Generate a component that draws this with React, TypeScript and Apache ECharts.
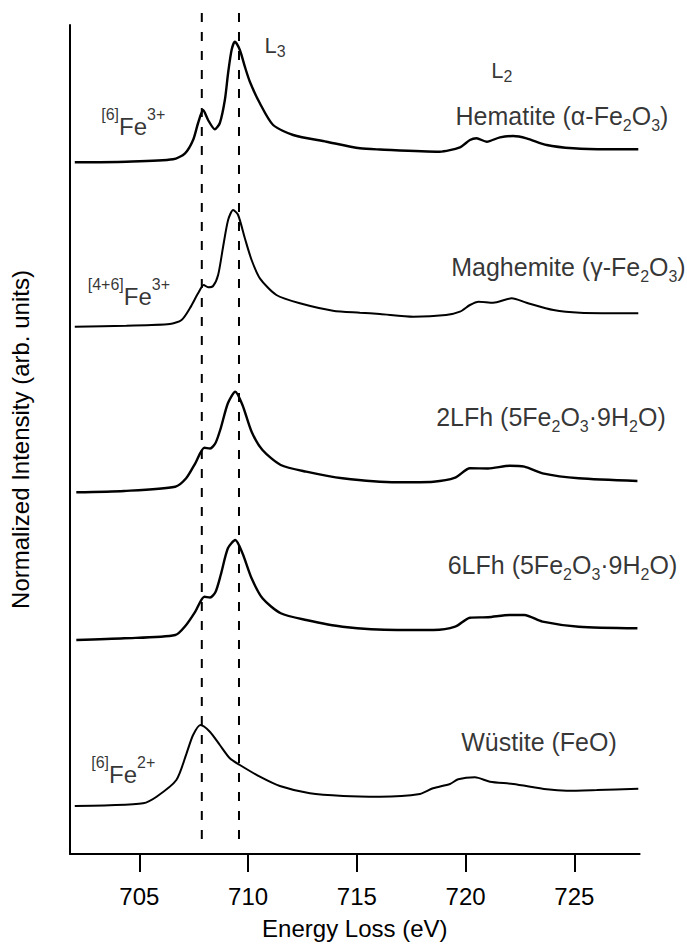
import React, { useEffect, useRef } from "react";
import * as echarts from "echarts";

// Energy loss (eV) and stacked, offset normalized intensity (arb. units)
const hematiteE = [702.03, 704.4, 706.55, 707.1, 707.47, 707.7, 707.93, 708.16, 708.47, 708.7, 708.93, 709.08, 709.24, 709.39, 709.62, 709.85, 710.08, 710.54, 711.15, 712.07, 713.6, 715.14, 716.06, 718.8, 719.74, 720.2, 720.5, 720.97, 721.58, 722.19, 722.8, 723.73, 724.95, 726.5, 727.94];
const hematiteI = [691.7, 692.3, 694.7, 700.7, 714, 731, 744, 734, 724.7, 731, 754, 781, 804, 812.3, 804, 787.3, 772.3, 750.7, 729, 719, 712.3, 705.7, 704.5, 702.3, 706.7, 714, 715.7, 712.3, 716.7, 718, 715.7, 709, 705.7, 704.7, 704.7];

const maghemiteE = [702.03, 704.4, 706.4, 706.94, 707.32, 707.7, 707.96, 708.16, 708.39, 708.62, 708.85, 709.08, 709.31, 709.54, 709.85, 710.16, 710.54, 711.3, 712.38, 713.9, 715.14, 716.06, 717.6, 719.1, 719.74, 720.2, 720.6, 721.27, 722.12, 722.8, 724.04, 725.26, 727.94];
const maghemiteI = [527.3, 528.3, 530, 534, 545.7, 560.7, 569, 566.7, 568, 579, 607.3, 634, 644, 639, 615.7, 594, 575.7, 559, 550.7, 543.3, 541.3, 540, 537.3, 539, 542.3, 549, 552.3, 551.3, 555.7, 551.3, 544, 541.3, 540.7];

const lfh2E = [702.1, 704.3, 706.65, 707.15, 707.57, 707.99, 708.25, 708.5, 708.74, 709.07, 709.41, 709.74, 710.16, 710.66, 711.5, 712.67, 714.34, 716.85, 718.52, 719.52, 720.2, 721.03, 722.03, 722.7, 723.54, 725.2, 727.9];
const lfh2I = [361.7, 363, 367.3, 375.7, 390.7, 406.3, 405.5, 411, 425.7, 450.7, 462.3, 449, 422.3, 404, 389, 382.3, 375.7, 371.7, 372.3, 376.3, 385.7, 385.5, 388.3, 387.3, 380.7, 375.7, 373];

const lfh6E = [702.1, 704.3, 706.65, 707.15, 707.57, 707.99, 708.25, 708.5, 708.74, 709.07, 709.41, 709.74, 710.16, 710.66, 711.5, 712.67, 714.34, 716.85, 718.52, 719.52, 720.2, 721.03, 722.03, 722.7, 723.54, 725.2, 727.9];
const lfh6I = [214, 215.7, 219, 229, 242.3, 257.3, 256.5, 262, 279, 305.7, 314, 300.7, 275.7, 255.7, 240.7, 234, 227.3, 224, 224, 227.3, 236.3, 236.8, 239, 239, 232.3, 227.3, 225.7];

const wustiteE = [702.03, 703.64, 705.17, 705.79, 706.7, 707.17, 707.47, 707.81, 708.24, 708.7, 709.16, 709.62, 710.54, 711.46, 712.84, 714.37, 716.06, 717.9, 718.5, 719.28, 719.66, 720.43, 721.12, 722.19, 723.73, 724.65, 726.03, 727.94];
const wustiteI = [48, 48.7, 50.7, 57.3, 74, 100.7, 119, 129, 122.3, 109, 95.7, 89, 77.3, 68, 60.7, 58, 57.3, 60, 65.7, 70, 74.7, 76.7, 72.3, 70, 64.7, 63.3, 64, 65.3];

const spectra = [
  { name: "Hematite", E: hematiteE, I: hematiteI, noisy: true },
  { name: "Maghemite", E: maghemiteE, I: maghemiteI, noisy: false },
  { name: "2LFh", E: lfh2E, I: lfh2I, noisy: true },
  { name: "6LFh", E: lfh6E, I: lfh6I, noisy: true },
  { name: "Wüstite", E: wustiteE, I: wustiteI, noisy: false },
];

// Reference energies of the [6]Fe2+ and L3 maximum (dashed lines)
const refEnergies = [707.87, 709.58];
const refSpan = [841, 14];

const xTicks = [705, 710, 715, 720, 725];
const xMin = 701.81;
const xMax = 728;
const yMin = 0;
const yMax = 829;

// Annotation anchors: energy at left edge, intensity at text centre, rich text
const annotE = [703.27, 702.65, 702.81, 710.78, 721.2, 719.56, 719.36, 718.67, 719.2, 719.82];
const annotI = [727, 557, 78.7, 807.7, 783, 738, 587, 437, 289, 111.5];
const annotText = [
  "{sup|[6]}{fe|Fe}{sup|3+}",
  "{sup|[4+6]}{fe|Fe}{sup|3+}",
  "{sup|[6]}{fe|Fe}{sup|2+}",
  "{l|L}{lsub|3}",
  "{l|L}{lsub|2}",
  "{t|Hematite (α-Fe}{sub|2}{t|O}{sub|3}{t|)}",
  "{t|Maghemite (γ-Fe}{sub|2}{t|O}{sub|3}{t|)}",
  "{t|2LFh (5Fe}{sub|2}{t|O}{sub|3}{t|·9H}{sub|2}{t|O)}",
  "{t|6LFh (5Fe}{sub|2}{t|O}{sub|3}{t|·9H}{sub|2}{t|O)}",
  "{t|Wüstite (FeO)}",
];

const FONT = "'Liberation Sans', Arial, Helvetica, sans-serif";

export default function App() {
  const ref = useRef<HTMLDivElement>(null);

  useEffect(() => {
    document.body.style.margin = "0";
    if (!ref.current) return;
    const chart = echarts.init(ref.current, undefined, { renderer: "svg" });

    const lineSeries = spectra.map((s) => ({
      name: s.name,
      type: "line",
      data: s.E.map((e, i) => [e, s.I[i]]),
      showSymbol: false,
      symbol: "none",
      smooth: 0.25,
      lineStyle: { color: "#000", width: s.noisy ? 2.4 : 2 },
      silent: true,
      z: 3,
    }));

    const dashSeries = refEnergies.map((e, k) => ({
      name: "ref" + k,
      type: "line",
      data: refSpan.map((v) => [e, v]),
      showSymbol: false,
      symbol: "none",
      clip: false,
      lineStyle: { color: "#000", width: 2, type: [9, 10] },
      silent: true,
      z: 2,
    }));

    const rich = {
      fe: { fontSize: 24, lineHeight: 40, color: "#000", fontFamily: FONT },
      sup: { fontSize: 16, verticalAlign: "top", color: "#000", fontFamily: FONT },
      t: { fontSize: 25, lineHeight: 40, color: "#000", fontFamily: FONT },
      sub: { fontSize: 16, height: 20, verticalAlign: "bottom", color: "#000", fontFamily: FONT },
      l: { fontSize: 22, lineHeight: 28, color: "#000", fontFamily: FONT },
      lsub: { fontSize: 16, height: 16, verticalAlign: "bottom", color: "#000", fontFamily: FONT },
    };

    const labelSeries = {
      name: "labels",
      type: "scatter",
      symbolSize: 1,
      itemStyle: { color: "rgba(0,0,0,0)" },
      silent: true,
      z: 4,
      data: annotE.map((e, i) => ({
        value: [e, annotI[i]],
        label: {
          show: true,
          position: [0, 0],
          align: "left",
          verticalAlign: "middle",
          formatter: annotText[i],
          color: "#000",
          fontFamily: FONT,
          rich,
        },
      })),
    };

    chart.setOption({
      animation: false,
      backgroundColor: "#fff",
      grid: { left: 70, right: 47.4, top: 25, bottom: 91 },
      xAxis: {
        type: "value",
        min: xMin,
        max: xMax,
        name: "Energy Loss (eV)",
        nameLocation: "middle",
        nameGap: 62,
        nameTextStyle: { fontSize: 24, color: "#000", fontFamily: FONT },
        axisLine: { lineStyle: { color: "#000", width: 2 } },
        axisTick: { show: true, length: 18, lineStyle: { color: "#000", width: 2 }, customValues: xTicks },
        axisLabel: { fontSize: 24, color: "#000", margin: 30, fontFamily: FONT, customValues: xTicks },
        splitLine: { show: false },
      },
      yAxis: {
        type: "value",
        min: yMin,
        max: yMax,
        name: "Normalized Intensity (arb. units)",
        nameLocation: "middle",
        nameGap: 38,
        nameTextStyle: { fontSize: 24, color: "#000", fontFamily: FONT },
        axisLine: { show: true, lineStyle: { color: "#000", width: 2 } },
        axisTick: { show: false },
        axisLabel: { show: false },
        splitLine: { show: false },
      },
      series: [...dashSeries, ...lineSeries, labelSeries],
    });

    return () => chart.dispose();
  }, []);

  return <div ref={ref} style={{ width: 687, height: 945 }} />;
}
